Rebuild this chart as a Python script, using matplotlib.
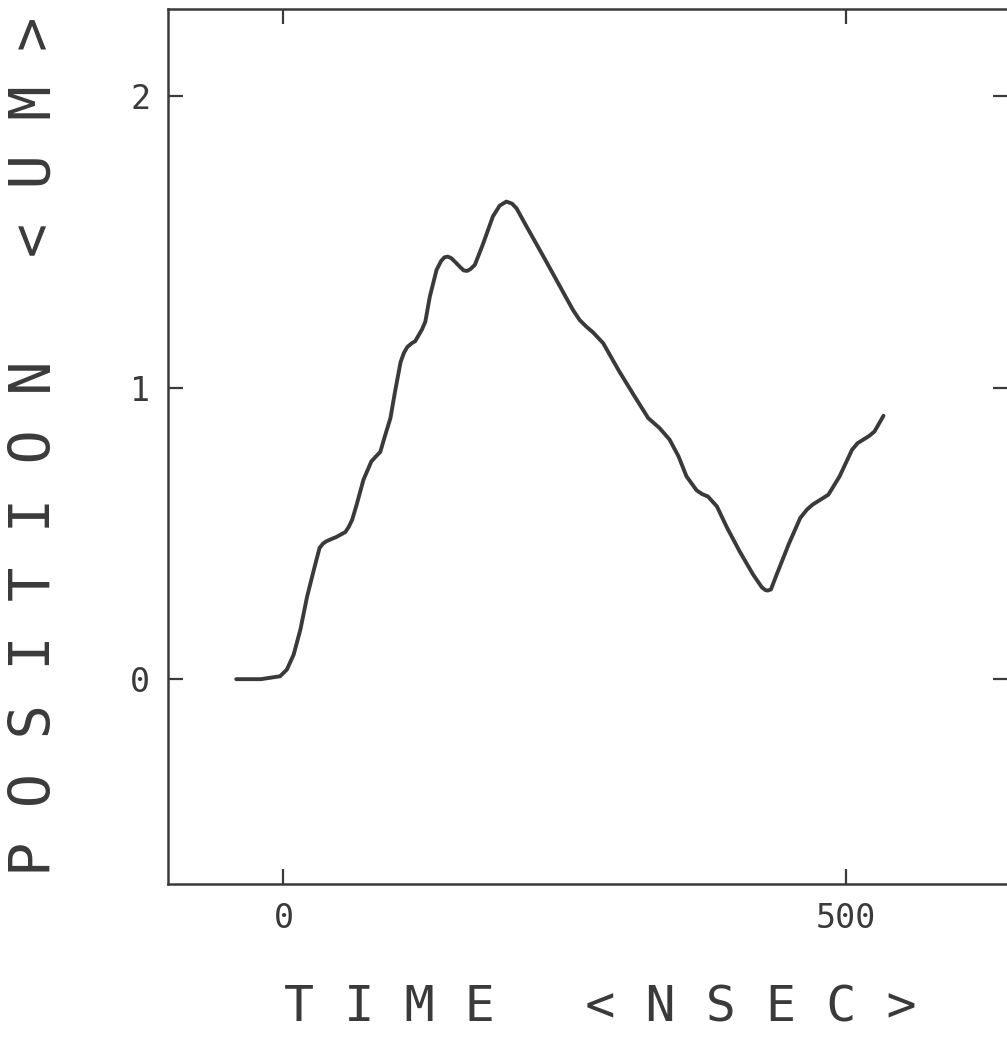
import numpy as np
import matplotlib.pyplot as plt

time_ns = [-42, -20, -3, 3, 9, 15, 21, 27, 32, 35, 38, 42, 47, 55, 58, 61, 65, 71, 78,
           82, 86, 90, 95, 99, 104, 107, 110, 114, 117, 123, 126, 130, 136, 140, 143,
           146, 149, 153, 157, 160, 163, 166, 170, 177, 186, 192, 198, 203, 207, 216,
           231, 246, 257, 263, 269, 275, 284, 298, 311, 324, 334, 343, 351, 358, 367,
           372, 377, 385, 394, 405, 417, 425, 428, 430, 433, 438, 449, 459, 465, 470,
           484, 494, 505, 510, 515, 520, 525, 533]
position_um = [0, 0, 0.01, 0.033, 0.084, 0.17, 0.284, 0.376, 0.45, 0.465, 0.473, 0.48,
               0.488, 0.505, 0.523, 0.547, 0.599, 0.684, 0.747, 0.764, 0.78, 0.833, 0.896,
               0.985, 1.088, 1.12, 1.14, 1.153, 1.16, 1.2, 1.227, 1.313, 1.405, 1.435,
               1.448, 1.45, 1.445, 1.43, 1.414, 1.403, 1.401, 1.407, 1.422, 1.491, 1.588,
               1.625, 1.639, 1.632, 1.616, 1.553, 1.45, 1.345, 1.268, 1.233, 1.21, 1.19,
               1.153, 1.058, 0.976, 0.896, 0.862, 0.822, 0.764, 0.696, 0.648, 0.635,
               0.627, 0.593, 0.52, 0.44, 0.36, 0.315, 0.306, 0.304, 0.308, 0.358, 0.465,
               0.553, 0.582, 0.599, 0.633, 0.696, 0.787, 0.81, 0.822, 0.834, 0.85, 0.904]

x_ticks = [0, 500]
x_labels = ["0", "500"]
y_ticks = [0, 1, 2]
y_labels = ["0", "1", "2"]

ink = "#3a3a3a"
plt.rcParams['font.family'] = ['DejaVu Sans Mono']

fig = plt.figure(figsize=(10.07, 10.39), dpi=100)
ax = fig.add_axes([168/1007, 155/1039, 840/1007, 875/1039])

ax.plot(time_ns, position_um, color=ink, lw=2.8, solid_capstyle='round', solid_joinstyle='round')

ax.set_xlim(-102.6, 643.6)
ax.set_ylim(-0.703, 2.30)

for s in ax.spines.values():
    s.set_linewidth(1.8)
    s.set_color(ink)

ax.set_xticks(x_ticks)
ax.set_xticklabels(x_labels)
ax.set_yticks(y_ticks)
ax.set_yticklabels(y_labels, ha='center')
ax.tick_params(direction='in', length=11, width=1.6, color=ink, labelcolor=ink,
               labelsize=24, top=True, right=True)
ax.tick_params(axis='x', pad=13)
ax.tick_params(axis='y', pad=20)

fig.text(600/1007, 1 - 1007/1039, "T I M E   < N S E C >", ha='center', va='center',
         fontsize=36, color=ink)
fig.text(35/1007, 1 - 446/1039, "P O S I T I O N   < U M >", ha='center', va='center',
         rotation=90, fontsize=41, color=ink)

fig.savefig("out.png", dpi=100, facecolor='white')
